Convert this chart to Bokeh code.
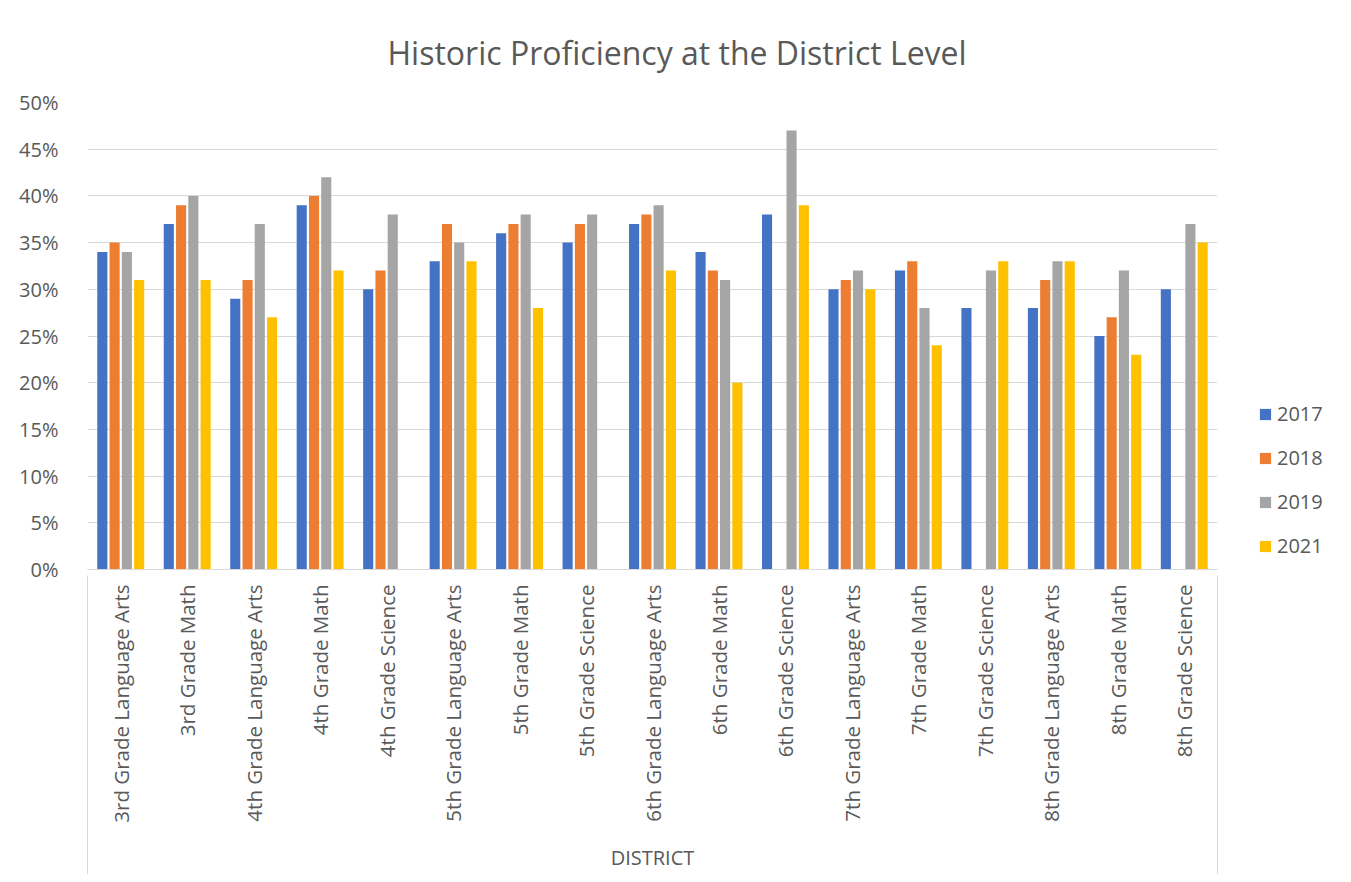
import math
from bokeh.plotting import figure
from bokeh.models import (ColumnDataSource, Range1d, LinearAxis, FixedTicker,
                          NumeralTickFormatter, Legend, LegendItem, Title)
from bokeh.embed import file_html
from bokeh.resources import INLINE

categories = ["3rd Grade Language Arts", "3rd Grade Math", "4th Grade Language Arts", "4th Grade Math",
              "4th Grade Science", "5th Grade Language Arts", "5th Grade Math", "5th Grade Science",
              "6th Grade Language Arts", "6th Grade Math", "6th Grade Science", "7th Grade Language Arts",
              "7th Grade Math", "7th Grade Science", "8th Grade Language Arts", "8th Grade Math",
              "8th Grade Science"]
nan = float("nan")
y2017 = [0.34, 0.37, 0.29, 0.39, 0.30, 0.33, 0.36, 0.35, 0.37, 0.34, 0.38, 0.30, 0.32, 0.28, 0.28, 0.25, 0.30]
y2018 = [0.35, 0.39, 0.31, 0.40, 0.32, 0.37, 0.37, 0.37, 0.38, 0.32, nan, 0.31, 0.33, nan, 0.31, 0.27, nan]
y2019 = [0.34, 0.40, 0.37, 0.42, 0.38, 0.35, 0.38, 0.38, 0.39, 0.31, 0.47, 0.32, 0.28, 0.32, 0.33, 0.32, 0.37]
y2021 = [0.31, 0.31, 0.27, 0.32, nan, 0.33, 0.28, nan, 0.32, 0.20, 0.39, 0.30, 0.24, 0.33, 0.33, 0.23, 0.35]
years = ["2017", "2018", "2019", "2021"]
y_ticks = [0, 0.05, 0.10, 0.15, 0.20, 0.25, 0.30, 0.35, 0.40, 0.45, 0.50]

colors = ["#4472C4", "#ED7D31", "#A5A5A5", "#FFC000"]
FONT = "Open Sans"
TXT = "#595959"
GRID = "#d9d9d9"

n = len(categories)
centers = [i + 0.5 for i in range(n)]
series = [y2017, y2018, y2019, y2021]
offsets = [-0.277, -0.092, 0.092, 0.277]

p = figure(x_range=Range1d(0, n), y_range=Range1d(0, 0.5),
           frame_width=1130, frame_height=467,
           min_border_left=87, min_border_right=126, min_border_top=101, min_border_bottom=290,
           output_backend="svg", toolbar_location=None)
p.title = Title(text="Historic Proficiency at the District Level", align="left", offset=300,
                text_font=FONT, text_font_size="32px", text_font_style="normal",
                text_color=TXT, standoff=57)
p.outline_line_color = None
p.background_fill_color = "white"
p.border_fill_color = "white"

renderers = []
for vals, off, col in zip(series, offsets, colors):
    src = ColumnDataSource(dict(x=[c + off for c in centers], top=vals))
    r = p.vbar(x="x", top="top", width=0.152, source=src, fill_color=col, line_color=None)
    renderers.append(r)

# y axis
p.yaxis.ticker = FixedTicker(ticks=y_ticks)
p.yaxis.formatter = NumeralTickFormatter(format="0%")
p.yaxis.axis_line_color = None
p.yaxis.major_tick_line_color = None
p.yaxis.minor_tick_line_color = None
p.yaxis.major_label_text_font = FONT
p.yaxis.major_label_text_font_size = "20px"
p.yaxis.major_label_text_color = TXT
p.yaxis.major_label_standoff = 23
p.ygrid.grid_line_color = GRID
p.ygrid.grid_line_width = 1
p.xgrid.grid_line_color = None

# x axis (category labels)
xa = p.xaxis[0]
xa.ticker = FixedTicker(ticks=centers)
xa.major_label_overrides = {c: name for c, name in zip(centers, categories)}
xa.major_label_orientation = math.pi / 2
xa.major_tick_line_color = None
xa.minor_tick_line_color = None
xa.major_tick_out = 0
xa.axis_line_color = GRID
xa.major_label_text_font = FONT
xa.major_label_text_font_size = "20.5px"
xa.major_label_text_color = TXT
xa.major_label_standoff = 15
xa.axis_label = "DISTRICT"
xa.axis_label_text_font = FONT
xa.axis_label_text_font_size = "20px"
xa.axis_label_text_font_style = "normal"
xa.axis_label_text_color = TXT
xa.axis_label_standoff = 18

# separator lines for the category group box
sep = LinearAxis(ticker=FixedTicker(ticks=[0, n]),
                 major_label_overrides={0: "", n: ""}, major_label_text_font_size="1px",
                 axis_line_color=None, major_tick_line_color=GRID, major_tick_in=298,
                 major_tick_out=1, minor_tick_line_color=None, major_label_standoff=0)
p.add_layout(sep, "below")

legend = Legend(items=[LegendItem(label=y, renderers=[r]) for y, r in zip(years, renderers)],
                location=(41, 10), border_line_color=None, background_fill_alpha=0,
                label_text_font=FONT, label_text_font_size="20px", label_text_color=TXT,
                glyph_width=14, glyph_height=14, label_height=20, spacing=17,
                padding=0, margin=0, label_standoff=5)
p.add_layout(legend, "right")

open("out.html", "w").write(file_html(p, INLINE))
